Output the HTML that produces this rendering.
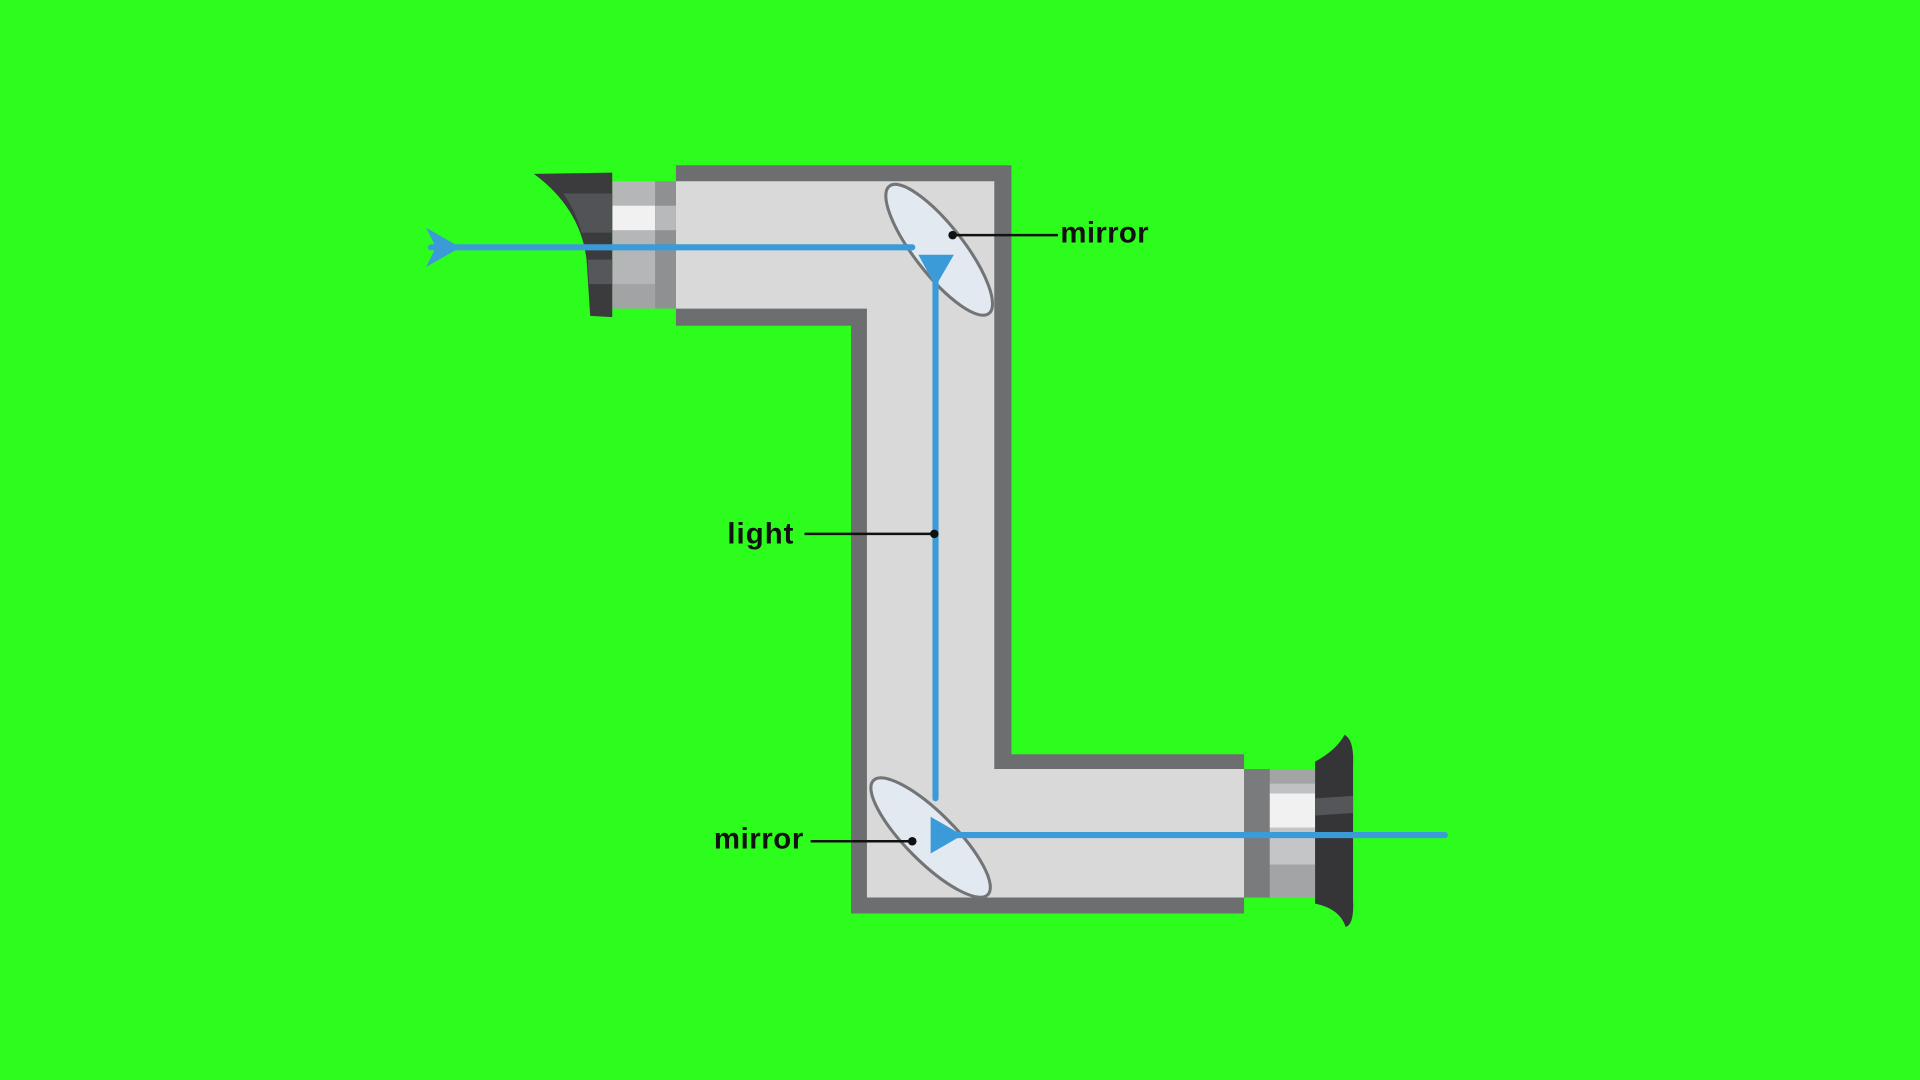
<!DOCTYPE html>
<html><head><meta charset="utf-8"><style>
html,body{margin:0;padding:0;background:#2dfd1d;width:1920px;height:1080px;overflow:hidden}
svg{display:block}
text{font-family:"Liberation Sans",sans-serif;font-weight:bold;font-size:24px;fill:#111}
</style></head><body>
<svg width="1920" height="1080" viewBox="0 0 1568 882" preserveAspectRatio="none">
<rect width="1568" height="882" fill="#2dfd1d"/>
<polygon points="552,135 826,135 826,616 1016,616 1016,746 695,746 695,266 552,266" fill="#6d6e70"/>
<polygon points="552,148 812,148 812,628 1016,628 1016,733 708,733 708,252 552,252" fill="#d9d9da"/>
<rect x="500" y="148" width="35" height="104" fill="#b5b6b8"/>
<rect x="500" y="168" width="35" height="20" fill="#f1f1f2"/>
<rect x="500" y="232" width="35" height="20" fill="#a2a3a5"/>
<rect x="535" y="148" width="17" height="104" fill="#8f9092"/>
<rect x="535" y="168" width="17" height="20" fill="#b8b9bb"/>
<path d="M436,142 L500,141 L500,259 L482,258 L479,212 Q474,170 436,142 Z" fill="#3b3b3e"/>
<path d="M460,158 L500,158 L500,190 L475,190 Q470,172 460,158 Z" fill="#525356"/>
<path d="M480,212 L500,212 L500,232 L481,232 Z" fill="#56575a"/>
<rect x="1016" y="628" width="58" height="105" fill="#a3a4a6"/>
<rect x="1016" y="628" width="21" height="105" fill="#7a7b7d"/>
<rect x="1037" y="648" width="37" height="28" fill="#f1f1f2"/>
<rect x="1037" y="640" width="37" height="8" fill="#c0c1c3"/>
<rect x="1037" y="676" width="37" height="30" fill="#c4c5c7"/>
<path d="M1074,622 Q1092,612 1098,600 Q1106,604 1105,625 L1105,735 Q1106,755 1099,757 Q1094,742 1074,738 Z" fill="#353538"/>
<path d="M1074,652 L1105,650 L1105,664 L1074,666 Z" fill="#55565a"/>
<ellipse cx="767" cy="204" rx="66" ry="20" transform="rotate(52 767 204)" fill="#e3e9f0" stroke="#737476" stroke-width="2.5"/>
<ellipse cx="760" cy="684" rx="66" ry="20" transform="rotate(45 760 684)" fill="#e3e9f0" stroke="#737476" stroke-width="2.5"/>
<g stroke="#3a9bd8" stroke-width="5" stroke-linecap="round" fill="none">
<line x1="352" y1="202" x2="745" y2="202"/>
<line x1="764" y1="212" x2="764" y2="652"/>
<line x1="778" y1="682" x2="1180" y2="682"/>
</g>
<g fill="#3a9bd8">
<polygon points="348,186 376,202 348,218 356,202"/>
<polygon points="750,208 779,208 764,234"/>
<polygon points="760,667 786,682 760,697"/>
</g>
<g stroke="#111" stroke-width="2">
<line x1="778" y1="192" x2="864" y2="192"/>
<line x1="657" y1="436" x2="762" y2="436"/>
<line x1="662" y1="687" x2="745" y2="687"/>
</g>
<g fill="#111">
<circle cx="778" cy="192" r="3.5"/>
<circle cx="763" cy="436" r="3.5"/>
<circle cx="745" cy="687" r="3.5"/>
</g>
<text x="866" y="198" textLength="72">mirror</text>
<text x="594" y="444" textLength="54">light</text>
<text x="583" y="693" textLength="73">mirror</text>
</svg>
</body></html>
